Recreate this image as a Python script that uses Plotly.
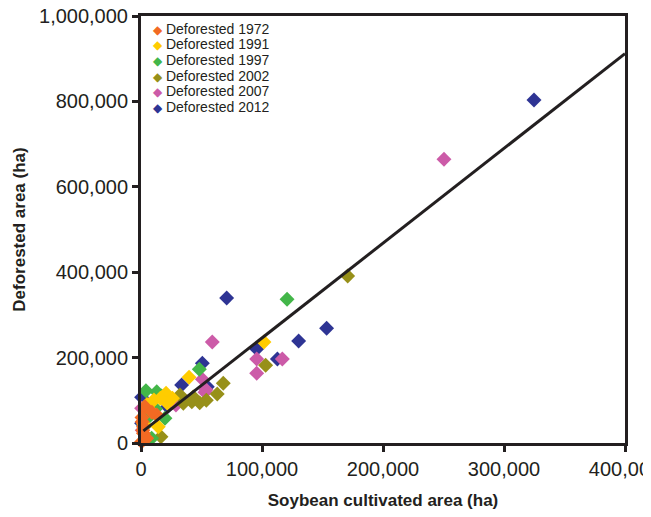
import plotly.graph_objects as go

# ---- data ----
series_names = ["Deforested 1972", "Deforested 1991", "Deforested 1997",
                "Deforested 2002", "Deforested 2007", "Deforested 2012"]

x_1972 = [500, 1000, 2000, 3300, 13000, 4700, 2000, 1500, 800, 9000]
y_1972 = [3000, 50000, 22700, 85000, 65600, 11000, 38000, 30000, 60000, 72000]

x_1991 = [39700, 101600, 10700, 20700, 21800, 8800, 14300, 16000, 5000, 26000, 2000]
y_1991 = [154000, 236500, 100700, 116400, 93000, 73300, 38200, 105000, 90000, 105000, 45000]

x_1997 = [120700, 48200, 4100, 13000, 19800, 8800, 12000, 3000, 6000, 17000]
y_1997 = [336500, 172600, 122500, 120200, 57800, 11000, 80000, 40000, 60000, 110000]

x_2002 = [170800, 103000, 68000, 63000, 48500, 42000, 32200, 43200, 16500, 35000, 54000]
y_2002 = [391100, 182000, 139800, 114800, 94000, 96700, 112400, 108000, 14800, 93000, 100000]

x_2007 = [250400, 58900, 95600, 116800, 95600, 50700, 52900, 28900, 53700, 500, 1000, 36000]
y_2007 = [664400, 236500, 196700, 196700, 163200, 149200, 118700, 89000, 125000, 81200, 30000, 100000]

x_2012 = [324800, 70800, 153400, 130300, 95600, 112700, 50700, 33600, 54800, 500, 500, 22000]
y_2012 = [803300, 339600, 268600, 238900, 220100, 196700, 186600, 135800, 131900, 107000, 46000, 85000]

# regression line
trend_slope = 2.22
trend_intercept = 24000
trend_x = [2000, 400000]

x_ticks = [0, 100000, 200000, 300000, 400000]
y_ticks = [0, 200000, 400000, 600000, 800000, 1000000]

colors = ["#F26A23", "#FFCC00", "#43B649", "#979019", "#CC5BA8", "#2E3494"]

xs = [x_1972, x_1991, x_1997, x_2002, x_2007, x_2012]
ys = [y_1972, y_1991, y_1997, y_2002, y_2007, y_2012]

fig = go.Figure()
# draw latest series first so 1972 sits on top
for i in reversed(range(6)):
    fig.add_trace(go.Scatter(
        x=xs[i], y=ys[i], mode="markers", name=series_names[i],
        marker=dict(symbol="diamond", size=11.5, color=colors[i], line=dict(width=0)),
        cliponaxis=False, showlegend=False,
    ))

fig.add_trace(go.Scatter(
    x=trend_x, y=[trend_intercept + trend_slope * v for v in trend_x],
    mode="lines", line=dict(color="#231F20", width=3), showlegend=False,
    hoverinfo="skip", cliponaxis=False,
))

# margins (the page body adds an 8px offset)
m_l, m_r, m_t, m_b = 133, 34, 8, 82
plot_h = 517 - m_t - m_b

# compact legend (built as annotations to match the tight row spacing)
for i, name in enumerate(series_names):
    py = 21 + 15.5 * i  # row centre relative to figure top
    fig.add_annotation(
        xref="paper", yref="paper", x=0.021, y=1 - (py - m_t) / plot_h,
        xanchor="left", yanchor="middle", showarrow=False,
        text=f"<span style='color:{colors[i]};font-size:12px'>◆</span> {name}",
        font=dict(family="Liberation Sans, Arial", size=14, color="#231F20"),
    )

axis_common = dict(
    showline=True, linecolor="#231F20", linewidth=3, mirror=True,
    ticks="outside", ticklen=6, tickwidth=2.5, tickcolor="#231F20",
    showgrid=False, zeroline=False, ticklabeloverflow="allow",
    automargin=False,
    tickfont=dict(family="Liberation Sans, Arial", size=20, color="#231F20"),
    tickformat=",d",
)

fig.update_layout(
    width=651, height=517,
    margin=dict(l=m_l, r=m_r, t=m_t, b=m_b),
    plot_bgcolor="white", paper_bgcolor="white",
    font=dict(family="Liberation Sans, Arial", color="#231F20"),
    xaxis=dict(axis_common, range=[0, 400000], tickvals=x_ticks,
               title=dict(text="<b>Soybean cultivated area (ha)</b>",
                          font=dict(size=17), standoff=16)),
    yaxis=dict(axis_common, range=[0, 1000000], tickvals=y_ticks,
               title=dict(text="<b>Deforested area (ha)</b>",
                          font=dict(size=17), standoff=10)),
    showlegend=False,
)

fig.write_html("out.html")
